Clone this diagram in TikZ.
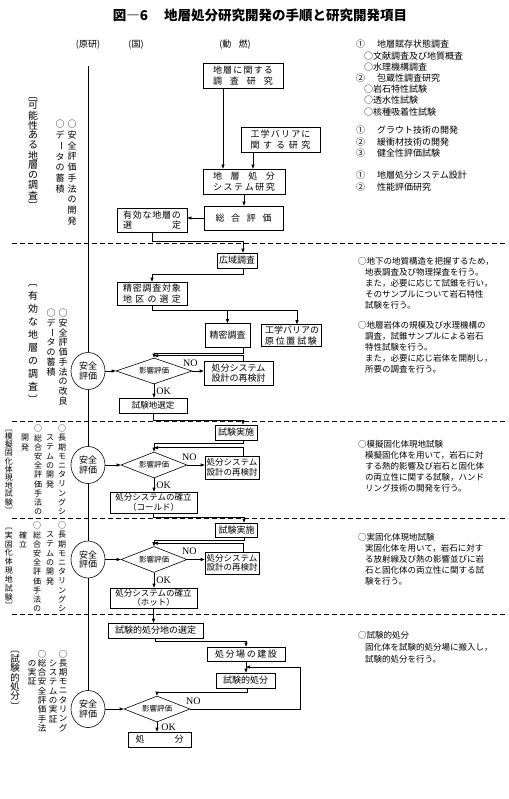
\documentclass[tikz,border=0pt]{standalone}
\usepackage{fontspec}
\usepackage{graphicx}
\usetikzlibrary{arrows.meta,shapes.geometric}
\newfontfamily\jp{Noto Sans CJK JP}
\newfontfamily\lat{Liberation Serif}

\ExplSyntaxOn
\cs_new_protected:Npn \rk_spread:n #1
  {
    \bool_set_false:N \l_tmpa_bool
    \tl_map_inline:nn {#1}
      {
        \bool_if:NT \l_tmpa_bool { \hfil }
        \bool_set_true:N \l_tmpa_bool
        ##1
      }
  }
\cs_new_protected:Npn \rk_vchar:n #1
  {
    \str_case:nnF {#1}
      {
        {ー} { \rotatebox[origin=c]{-90}{ー} }
        {〔} { \rotatebox[origin=c]{-90}{〔} }
        {〕} { \rotatebox[origin=c]{-90}{〕} }
      }
      {#1}
  }
\NewDocumentCommand \jst { m m } { \makebox[#1][s]{ \rk_spread:n {#2} } }
\NewDocumentCommand \vtxt { m m }
  {
    \vbox
      {
        \offinterlineskip
        \tl_map_inline:nn {#2}
          {
            \hbox_to_wd:nn { 1em }
              { \hss \vbox_to_ht:nn {#1} { \vss \hbox:n { \rk_vchar:n {##1} } \vss } \hss }
          }
      }
  }
\ExplSyntaxOff

\tikzset{
  box/.style={draw, line width=0.6pt, fill=white, inner sep=1pt, align=center,
    font=\jp\fontsize{9}{10.5}\selectfont},
  sbox/.style={box, font=\jp\fontsize{8.5}{9.5}\selectfont},
  sz/.style 2 args={minimum width=#1pt, minimum height=#2pt},
  hyoka/.style={draw, line width=0.6pt, diamond, aspect=2.5, inner sep=0pt,
    minimum width=66pt, minimum height=26pt, font=\jp\fontsize{7.5}{8}\selectfont},
  anzen/.style={draw, line width=0.6pt, fill=white, ellipse, inner sep=0pt,
    minimum width=34pt, minimum height=37pt, align=center,
    font=\jp\fontsize{9}{9.5}\selectfont},
  lbl/.style={font=\lat\fontsize{10}{10}\selectfont, inner sep=1pt},
  note/.style={anchor=north west, align=left, inner sep=0pt,
    font=\jp\fontsize{8.5}{11}\selectfont},
  vcol/.style={anchor=north, inner sep=0pt, font=\jp\fontsize{#1}{#1}\selectfont},
  vcol/.default=9,
  arr/.style={line width=0.6pt, -{Triangle[length=4pt,width=3pt]}},
  line/.style={line width=0.6pt},
  divider/.style={line width=0.6pt, dash pattern=on 5pt off 3pt},
}

\begin{document}
\begin{tikzpicture}[x=1pt, y=-1pt]
    \fill[white] (0,0) rectangle (508,799);
    \useasboundingbox (0,0) rectangle (508,799);

    % Title and column heads
    \node[font=\jp\bfseries\fontsize{13.5}{15}\selectfont] (title) at (260,15) {図―6\hspace{1.2em}地層処分研究開発の手順と研究開発項目};
    \node[font=\jp\fontsize{9}{9}\selectfont] (genken) at (88,45) {(原研)};
    \node[font=\jp\fontsize{9}{9}\selectfont] (kuni) at (136,45) {(国)};
    \node[font=\jp\fontsize{9}{9}\selectfont] (donen) at (235,45) {(動\hspace{0.8em}燃)};

    % Section dividers
    \draw[divider] (12,243) -- (505,243);
    \draw[divider] (12,421) -- (505,421);
    \draw[divider] (12,518) -- (505,518);
    \draw[divider] (12,614) -- (505,614);

    % Section 1: possible strata
    \node[box, sz={80}{25}] (chosa) at (243,75.5) {\jst{60pt}{地層に関する}\\\jst{60pt}{調査研究}};
    \node[box, sz={79}{25}] (kougaku) at (280.5,139.5) {\jst{60pt}{工学バリアに}\\\jst{60pt}{関する研究}};
    \node[box, sz={82}{25}] (syst) at (244,181.5) {\jst{62pt}{地層処分}\\\jst{62pt}{システム研究}};
    \node[box, sz={79}{24}] (sogo) at (243.5,218) {\jst{56pt}{総合評価}};
    \node[box, sz={70}{24}] (yukou) at (152,220) {\jst{58pt}{有効な地層の}\\\jst{58pt}{選定}};

    \draw[arr] ([xshift=-20pt]chosa.south) -- ([xshift=-20pt]chosa.south |- syst.north);
    \draw[arr] ([xshift=-27.5pt]kougaku.south) -- ([xshift=-27.5pt]kougaku.south |- syst.north);
    \draw[arr] (syst.south) -- (syst.south |- sogo.north);
    \draw[arr] (sogo.west) -- (sogo.west -| yukou.east);

    % Section 2: effective strata
    \node[box, sz={40}{15}] (kouiki) at (237,260.5) {広域調査};
    \node[box, sz={70}{23}] (taisho) at (152,293.5) {\jst{58pt}{精密調査対象}\\\jst{58pt}{地区の選定}};
    \node[box, sz={45}{24}] (seimitsu) at (227.5,335.5) {精密調査};
    \node[box, sz={60}{22}] (genichi) at (291,335.5) {\jst{52pt}{工学バリアの}\\\jst{52pt}{原位置試験}};
    \node[anzen] (anzen2) at (88,371) {安全\\評価};
    \node[hyoka, minimum width=76pt] (eikyo2) at (154,371) {影響評価};
    \node[box, sz={69}{24}] (saikento2) at (238.5,373) {処分システム\\設計の再検討};
    \node[sbox, sz={68}{15}] (shikenchi) at (153,405.5) {試験地選定};

    \draw[arr] (yukou.south) -- ++(0,9) -| ([xshift=6pt]kouiki.north);
    \draw[arr] ([xshift=6pt]kouiki.south) -- ++(0,5.5) -| (taisho.north);
    \draw[line] (taisho.south) -- ++(0,5) coordinate (fork2);
    \draw[arr] (fork2) -| (seimitsu.north);
    \draw[arr] (fork2) -| ([xshift=6pt]genichi.north);
    \draw[arr] ([xshift=15.5pt]seimitsu.south) -- ++(0,5) -| (eikyo2.north);
    \draw[arr] ([xshift=4.5pt]saikento2.north) |- ([yshift=2pt]eikyo2.north);
    \draw[arr] (anzen2) -- (eikyo2);
    \draw[arr] (eikyo2.east) -- (eikyo2.east -| saikento2.west);
    \node[lbl] (no2) at ([shift={(-2,-8)}]eikyo2.east) {NO};
    \draw[arr] (eikyo2.south) -- node[lbl, right=1pt] (ok2) {OK} (eikyo2.south |- shikenchi.north);

    % Section 3: simulated waste field test
    \node[box, sz={42}{15}] (jisshi3) at (236,432.5) {試験実施};
    \node[anzen] (anzen3) at (88,465) {安全\\評価};
    \node[hyoka] (eikyo3) at (154,465) {影響評価};
    \node[sbox, sz={54}{23}] (saikento3) at (232,467.5) {処分システム\\設計の再検討};
    \node[sbox, sz={87}{21}] (cold) at (153.5,502.5) {処分システムの確立\\（コールド）};

    \draw[arr] (shikenchi.south) -- ++(0,7) -| ([xshift=7pt]jisshi3.north);
    \draw[arr] ([xshift=7pt]jisshi3.south) -- ++(0,3) -| (eikyo3.north);
    \draw[arr] ([xshift=11pt]saikento3.north) |- ([yshift=4pt]eikyo3.north);
    \draw[arr] (anzen3) -- (eikyo3);
    \draw[arr] (eikyo3.east) -- (eikyo3.east -| saikento3.west);
    \node[lbl] (no3) at ([shift={(2,-8)}]eikyo3.east) {NO};
    \draw[arr] (eikyo3.south) -- node[lbl, right=1pt] (ok3) {OK} (eikyo3.south |- cold.north);

    % Section 4: real waste field test
    \node[box, sz={42}{14}] (jisshi4) at (236.5,530) {試験実施};
    \node[anzen] (anzen4) at (88,559.5) {安全\\評価};
    \node[hyoka] (eikyo4) at (154,559.5) {影響評価};
    \node[sbox, sz={54}{22}] (saikento4) at (232,563) {処分システム\\設計の再検討};
    \node[sbox, sz={87}{20}] (hot) at (153.5,598) {処分システムの確立\\（ホット）};

    \draw[arr] (cold.south) -- ++(0,4) -| ([xshift=7.5pt]jisshi4.north);
    \draw[arr] ([xshift=7.5pt]jisshi4.south) -- ++(0,3) -| (eikyo4.north);
    \draw[arr] ([xshift=11pt]saikento4.north) |- ([yshift=3pt]eikyo4.north);
    \draw[arr] (anzen4) -- (eikyo4);
    \draw[arr] (eikyo4.east) -- (eikyo4.east -| saikento4.west);
    \node[lbl] (no4) at ([shift={(2,-8)}]eikyo4.east) {NO};
    \draw[arr] (eikyo4.south) -- node[lbl, right=1pt] (ok4) {OK} (eikyo4.south |- hot.north);

    % Section 5: trial disposal
    \node[box, sz={95}{15}] (sentei) at (155.5,630.5) {試験的処分地の選定};
    \node[box, sz={78}{14}] (kensetsu) at (246,654) {\jst{62pt}{処分場の建設}};
    \node[box, sz={59}{15}] (shiken5) at (245.5,680.5) {試験的処分};
    \node[anzen] (anzen5) at (88,709) {安全\\評価};
    \node[hyoka] (eikyo5) at (157,709) {影響評価};
    \node[box, sz={63}{15}] (shobun) at (159.5,739.5) {\jst{48pt}{処分}};
    \coordinate (ret5) at (300,667);

    \draw[arr] (hot.south) -- (hot.south |- sentei.north);
    \draw[arr] (sentei.south) -- ++(0,3) -| (kensetsu.north);
    \draw[arr] (kensetsu.south) -- (kensetsu.south |- shiken5.north);
    \draw[arr] ([xshift=1.5pt]shiken5.south) -- ++(0,4) -| (eikyo5.north);
    \draw[arr] (anzen5) -- (eikyo5);
    \draw[arr] (eikyo5.east) -| (ret5) -- (ret5 -| kensetsu.south);
    \node[lbl] (no5) at ([shift={(3,-8)}]eikyo5.east) {NO};
    \draw[arr] (eikyo5.south) -- node[lbl, right=3pt] (ok5) {OK} (eikyo5.south |- shobun.north);

    % Vertical time axis through the safety circles
    \coordinate (axtop) at (88,66);
    \draw[line] (axtop) -- (anzen2.north);
    \draw[line] (anzen2.south) -- (anzen3.north);
    \draw[line] (anzen3.south) -- (anzen4.north);
    \draw[line] (anzen4.south) -- (anzen5.north);

    % Left columns (vertical writing)
    \node[vcol=10] (kanou) at (33,90) {\vtxt{10pt}{〔可能性ある地層の調査〕}};
    \node[vcol=9] (kaihatsu1) at (72,119) {\vtxt{10.7pt}{○安全評価手法の開発}};
    \node[vcol=9] (data1) at (60,119) {\vtxt{10.7pt}{○データの蓄積}};

    \node[vcol=10] (yuukou) at (33,276) {\vtxt{13pt}{〔有効な地層の調査〕}};
    \node[vcol=9] (kairyo2) at (63,308) {\vtxt{9.8pt}{○安全評価手法の改良}};
    \node[vcol=9] (data2) at (51,308) {\vtxt{9.8pt}{○データの蓄積}};

    \node[vcol=8] (mogi) at (9,424) {\vtxt{8.2pt}{〔模擬固化体現地試験〕}};
    \node[vcol=8] (choki3) at (62,424) {\vtxt{9.2pt}{○長期モニタリングシ}};
    \node[vcol=8] (stem3) at (50,433.2) {\vtxt{9.2pt}{ステムの開発}};
    \node[vcol=8] (sogo3) at (38,424) {\vtxt{9.2pt}{○総合安全評価手法の}};
    \node[vcol=8] (kai3) at (25,433.2) {\vtxt{9.2pt}{開発}};

    \node[vcol=8] (jitsu) at (9,522) {\vtxt{8.8pt}{〔実固化体現地試験〕}};
    \node[vcol=8] (choki4) at (62,521) {\vtxt{9.2pt}{○長期モニタリングシ}};
    \node[vcol=8] (stem4) at (50,530.2) {\vtxt{9.2pt}{ステムの開発}};
    \node[vcol=8] (sogo4) at (37,521) {\vtxt{9.2pt}{○総合安全評価手法の}};
    \node[vcol=8] (kaku4) at (23,530.2) {\vtxt{9.2pt}{確立}};

    \node[vcol=9.5] (shiteki) at (15,644) {\vtxt{9.5pt}{〔試験的処分〕}};
    \node[vcol=8.5] (choki5) at (63,649) {\vtxt{9.3pt}{○長期モニタリング}};
    \node[vcol=8.5] (stem5) at (53,658.3) {\vtxt{9.3pt}{システムの実証}};
    \node[vcol=8.5] (sogo5) at (42,649) {\vtxt{9.3pt}{○総合安全評価手法}};
    \node[vcol=8.5] (jissho5) at (32,658.3) {\vtxt{9.3pt}{の実証}};

    % Right column: research items
    \node[note, font=\jp\fontsize{9}{11.2}\selectfont] (koumoku1) at (356,40) {\makebox[21pt][l]{①}地層賦存状態調査\\
      \hspace*{8pt}○文献調査及び地質概査\\
      \hspace*{8pt}○水理機構調査\\
      \makebox[21pt][l]{②}包蔵性調査研究\\
      \hspace*{8pt}○岩石特性試験\\
      \hspace*{8pt}○透水性試験\\
      \hspace*{8pt}○核種吸着性試験};
    \node[note, font=\jp\fontsize{9}{11.5}\selectfont] (koumoku2) at (356,126) {\makebox[21pt][l]{①}グラウト技術の開発\\
      \makebox[21pt][l]{②}緩衝材技術の開発\\
      \makebox[21pt][l]{③}健全性評価試験};
    \node[note, font=\jp\fontsize{9}{11.5}\selectfont] (koumoku3) at (356,171) {\makebox[21pt][l]{①}地層処分システム設計\\
      \makebox[21pt][l]{②}性能評価研究};

    \node[note] (setsu2a) at (358,257) {○地下の地質構造を把握するため，\\
      \hspace*{7pt}地表調査及び物理探査を行う。\\
      \hspace*{7pt}また，必要に応じて試錐を行い，\\
      \hspace*{7pt}そのサンプルについて岩石特性\\
      \hspace*{7pt}試験を行う。};
    \node[note] (setsu2b) at (358,321) {○地層岩体の規模及び水理機構の\\
      \hspace*{7pt}調査，試錐サンプルによる岩石\\
      \hspace*{7pt}特性試験を行う。\\
      \hspace*{7pt}また，必要に応じ岩体を開削し，\\
      \hspace*{7pt}所要の調査を行う。};
    \node[note] (setsu3) at (358,440) {○模擬固化体現地試験\\
      \hspace*{7pt}模擬固化体を用いて，岩石に対\\
      \hspace*{7pt}する熱的影響及び岩石と固化体\\
      \hspace*{7pt}の両立性に関する試験，ハンド\\
      \hspace*{7pt}リング技術の開発を行う。};
    \node[note] (setsu4) at (358,533) {○実固化体現地試験\\
      \hspace*{7pt}実固化体を用いて，岩石に対す\\
      \hspace*{7pt}る放射線及び熱の影響並びに岩\\
      \hspace*{7pt}石と固化体の両立性に関する試\\
      \hspace*{7pt}験を行う。};
    \node[note, font=\jp\fontsize{8.5}{12}\selectfont] (setsu5) at (358,631) {○試験的処分\\
      \hspace*{7pt}固化体を試験的処分場に搬入し，\\
      \hspace*{7pt}試験的処分を行う。};
\end{tikzpicture}
\end{document}
